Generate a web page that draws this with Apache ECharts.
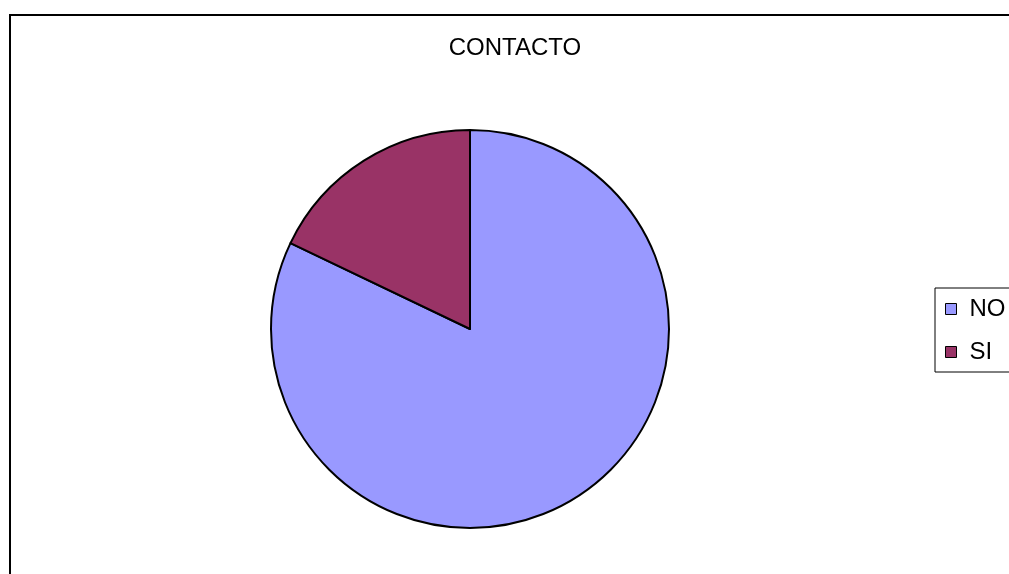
<!DOCTYPE html>
<html>
<head>
<meta charset="utf-8">
<script src="https://cdn.jsdelivr.net/npm/echarts@6/dist/echarts.min.js"></script>
<style>
  html, body { margin: 0; padding: 0; background: #fff; }
  #chart { width: 1009px; height: 574px; }
</style>
</head>
<body>
<div id="chart"></div>
<script>
// categories and values
const categories = ["NO", "SI"];
const values = [82.1, 17.9];
const colors = ["#9999FF", "#993366"];

const font = "'Liberation Sans', Arial, sans-serif";

const myChart = echarts.init(document.getElementById("chart"));

myChart.setOption({
  animation: false,
  backgroundColor: "#fff",
  graphic: [
    {
      // outer chart frame (runs off the right and bottom edges)
      type: "rect",
      shape: { x: 10, y: 15, width: 1200, height: 800 },
      style: { fill: "none", stroke: "#000", lineWidth: 2 },
      silent: true,
    },
    {
      type: "text",
      x: 515,
      y: 48,
      style: {
        text: "CONTACTO",
        font: "24px " + font,
        fill: "#000",
        textAlign: "center",
        textVerticalAlign: "middle",
      },
    },
  ],
  legend: {
    orient: "vertical",
    left: 935,
    top: 288,
    data: categories,
    icon: "rect",
    itemWidth: 11,
    itemHeight: 11,
    itemGap: 19,
    padding: [9, 20, 8, 10],
    borderColor: "#000",
    borderWidth: 1,
    itemStyle: { borderColor: "#000", borderWidth: 1 },
    textStyle: {
      fontFamily: font,
      fontSize: 24,
      lineHeight: 24,
      color: "#000",
      padding: [0, 0, 0, 8],
    },
  },
  series: [
    {
      type: "pie",
      center: [470, 329],
      radius: 199,
      startAngle: 90,
      clockwise: true,
      label: { show: false },
      labelLine: { show: false },
      emphasis: { disabled: true },
      itemStyle: { borderColor: "#000", borderWidth: 2 },
      data: categories.map((name, i) => ({
        name,
        value: values[i],
        itemStyle: { color: colors[i] },
      })),
    },
  ],
});

window.addEventListener("resize", myChart.resize);
</script>
</body>
</html>
